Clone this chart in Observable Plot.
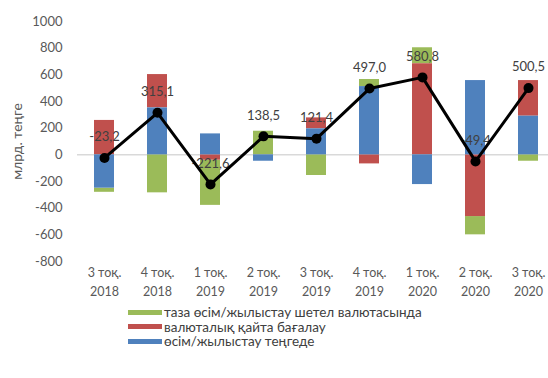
<!DOCTYPE html>
<html>
<head>
<meta charset="utf-8">
<script src="https://cdn.jsdelivr.net/npm/d3@7"></script>
<script src="https://cdn.jsdelivr.net/npm/@observablehq/plot@0.6"></script>
<style>
  body { margin: 0; background: #fff; font-family: Lato, "Open Sans", sans-serif; }
  #wrap { position: relative; width: 548px; height: 378px; overflow: hidden; }
  .legend { position: absolute; left: 128px; top: 305px; font-size: 13.5px; color: #404040; }
  .row { display: flex; align-items: center; height: 14.5px; white-space: nowrap; }
  .sw { width: 34px; height: 5px; margin-right: 2px; }
</style>
</head>
<body>
<div id="wrap"></div>
<script>
const quarters = ["3 тоқ.", "4 тоқ.", "1 тоқ.", "2 тоқ.", "3 тоқ.", "4 тоқ.", "1 тоқ.", "2 тоқ.", "3 тоқ."];
const years = ["2018", "2018", "2019", "2019", "2019", "2019", "2020", "2020", "2020"];
const seriesNames = ["таза өсім/жылыстау шетел валютасында", "валюталық қайта бағалау", "өсім/жылыстау теңгеде"];
const seriesColors = ["#9BBB59", "#C0504D", "#4F81BD"];
const green = [-31, -285, -339, 177, -155, 53, 120, -137, -48];
const red = [258, 250, -40, 0, 82, -68, 683, -463, 267];
const blue = [-250, 352, 157, -48, 195, 512, -223, 557, 290];
const totals = [-23.2, 315.1, -221.6, 138.5, 121.4, 497.0, 580.8, -49.4, 500.5];
const yTicks = [-800, -600, -400, -200, 0, 200, 400, 600, 800, 1000];

const cats = quarters.map((q, i) => q + " " + years[i]);
const bars = [];
[green, red, blue].forEach((arr, s) => arr.forEach((v, i) => bars.push({cat: cats[i], series: seriesNames[s], value: v})));
const line = totals.map((v, i) => ({cat: cats[i], total: v}));

const chart = Plot.plot({
  width: 548,
  height: 300,
  marginLeft: 77,
  marginRight: -7,
  marginTop: 21,
  marginBottom: 39,
  style: {fontFamily: "Lato, 'Open Sans', sans-serif", background: "#fff"},
  x: {domain: cats, paddingInner: 0.62, paddingOuter: 0.31, axis: null},
  y: {domain: [-800, 1000], axis: null},
  color: {domain: seriesNames, range: seriesColors},
  marks: [
    Plot.ruleY([0], {stroke: "#d9d9d9", strokeWidth: 1.5}),
    Plot.barY(bars, Plot.stackY({x: "cat", y: "value", fill: "series", order: [seriesNames[2], seriesNames[1], seriesNames[0]]})),
    Plot.axisY({ticks: yTicks, tickSize: 0, tickPadding: 15, fontSize: 13, fill: "#595959", label: null, tickFormat: d => String(d)}),
    Plot.axisX({tickSize: 0, tickPadding: 7, fontSize: 12.5, fill: "#595959", label: null, tickFormat: (d) => quarters[cats.indexOf(d)]}),
    Plot.axisX({tickSize: 0, tickPadding: 26, fontSize: 12.5, fill: "#595959", label: null, tickFormat: (d) => years[cats.indexOf(d)]}),
    Plot.text(["млрд. теңге"], {frameAnchor: "left", textAnchor: "middle", dx: -60, rotate: -90, fontSize: 14, fill: "#595959"}),
    Plot.text(line, {x: "cat", y: "total", text: d => d.total.toFixed(1).replace(".", ","), dy: -21, fontSize: 13, fill: "#404040"}),
    Plot.line(line, {x: "cat", y: "total", stroke: "#000", strokeWidth: 3}),
    Plot.dot(line, {x: "cat", y: "total", r: 5, fill: "#000"})
  ]
});

const wrap = document.getElementById("wrap");
wrap.appendChild(chart);
const legend = document.createElement("div");
legend.className = "legend";
seriesNames.forEach((name, i) => {
  const row = document.createElement("div");
  row.className = "row";
  const sw = document.createElement("span");
  sw.className = "sw";
  sw.style.background = seriesColors[i];
  const t = document.createElement("span");
  t.textContent = name;
  row.appendChild(sw);
  row.appendChild(t);
  legend.appendChild(row);
});
wrap.appendChild(legend);
</script>
</body>
</html>
